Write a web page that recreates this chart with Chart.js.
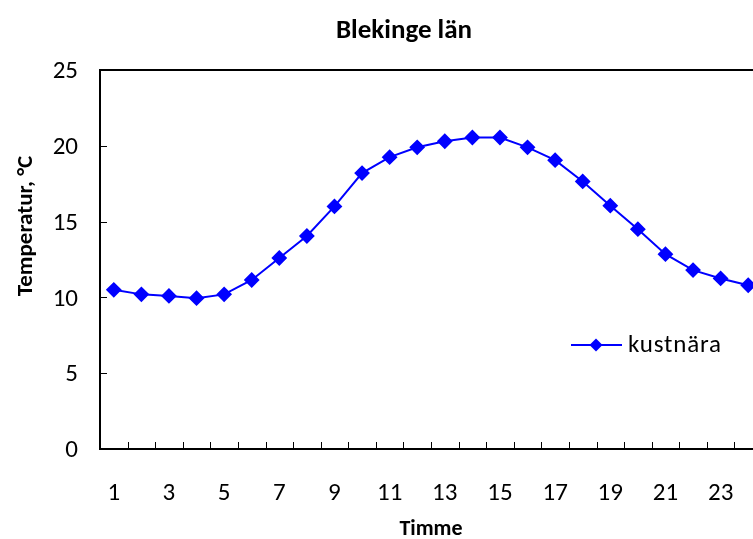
<!DOCTYPE html>
<html>
<head>
<meta charset="utf-8">
<script src="https://cdn.jsdelivr.net/npm/chart.js@4"></script>
<style>
  html, body { margin: 0; padding: 0; background: #fff; overflow: hidden; }
  #wrap { width: 808px; height: 539px; }
</style>
</head>
<body>
<div id="wrap"><canvas id="c" width="808" height="539"></canvas></div>
<script>
// Hourly temperature, coastal station, Blekinge county
const hours = Array.from({ length: 24 }, (_, i) => String(i + 1));
const kustnara = [10.5, 10.2, 10.1, 9.95, 10.2, 11.15, 12.6, 14.05, 16.0, 18.2, 19.25, 19.9,
                  20.3, 20.55, 20.55, 19.9, 19.05, 17.65, 16.05, 14.5, 12.85, 11.8, 11.25, 10.8];
const yTicks = [0, 5, 10, 15, 20, 25];

const FONT = 'Carlito, Lato, "Open Sans", sans-serif';
const BLUE = '#0000FF';

// Frame, inward tick marks, titles and legend
const decor = {
  id: 'decor',
  afterDraw(chart) {
    const { ctx, chartArea: a, scales: { x, y } } = chart;
    ctx.save();
    // plot frame
    ctx.strokeStyle = '#000';
    ctx.lineWidth = 2;
    ctx.strokeRect(a.left, a.top, a.right - a.left, a.bottom - a.top);
    // inward ticks
    ctx.lineWidth = 1;
    ctx.beginPath();
    for (let i = 1; i < hours.length; i++) {
      const px = Math.round((x.getPixelForValue(i - 1) + x.getPixelForValue(i)) / 2) + 0.5;
      ctx.moveTo(px, a.bottom);
      ctx.lineTo(px, a.bottom - 7);
    }
    yTicks.forEach(v => {
      const py = Math.round(y.getPixelForValue(v)) + 0.5;
      ctx.moveTo(a.left, py);
      ctx.lineTo(a.left + 7, py);
    });
    ctx.stroke();

    // titles
    ctx.fillStyle = '#000';
    ctx.textAlign = 'center';
    ctx.textBaseline = 'middle';
    ctx.font = 'bold 27px ' + FONT;
    ctx.fillText('Blekinge län', chart.width / 2, 31);
    ctx.font = 'bold 22px ' + FONT;
    ctx.fillText('Timme', (a.left + a.right) / 2, 529);
    ctx.save();
    ctx.translate(26, 226);
    ctx.rotate(-Math.PI / 2);
    ctx.font = 'bold 23px ' + FONT;
    ctx.fillText('Temperatur, °C', 0, 0);
    ctx.restore();

    // legend
    const ly = 345;
    ctx.strokeStyle = BLUE;
    ctx.lineWidth = 2;
    ctx.beginPath();
    ctx.moveTo(571, ly);
    ctx.lineTo(622, ly);
    ctx.stroke();
    ctx.fillStyle = BLUE;
    ctx.beginPath();
    ctx.moveTo(596, ly - 6.5);
    ctx.lineTo(602.5, ly);
    ctx.lineTo(596, ly + 6.5);
    ctx.lineTo(589.5, ly);
    ctx.closePath();
    ctx.fill();
    ctx.fillStyle = '#000';
    ctx.textAlign = 'left';
    ctx.font = '25px ' + FONT;
    ctx.letterSpacing = '0.8px';
    ctx.fillText('kustnära', 628, ly + 1);
    ctx.restore();
  }
};

new Chart(document.getElementById('c'), {
  type: 'line',
  data: {
    labels: hours,
    datasets: [{
      label: 'kustnära',
      data: kustnara,
      borderColor: BLUE,
      backgroundColor: BLUE,
      borderWidth: 2,
      pointStyle: 'rectRot',
      pointRadius: 6.5,
      pointHoverRadius: 6.5,
      tension: 0
    }]
  },
  options: {
    responsive: false,
    animation: false,
    devicePixelRatio: 1,
    layout: { padding: { left: 0, top: 70, right: 46, bottom: 0 } },
    plugins: { legend: { display: false }, title: { display: false }, tooltip: { enabled: false } },
    scales: {
      x: {
        type: 'category',
        offset: true,
        grid: { display: false, drawTicks: false },
        border: { display: false },
        ticks: {
          autoSkip: false,
          maxRotation: 0,
          padding: 30,
          color: '#000',
          font: { family: FONT, size: 25 },
          callback: (v, i) => (i % 2 === 0 && i < 23 ? hours[i] : '')
        },
        afterFit: s => { s.height = 90; }
      },
      y: {
        min: 0,
        max: 25,
        grid: { display: false, drawTicks: false },
        border: { display: false },
        ticks: {
          stepSize: 5,
          padding: 22,
          labelOffset: 2,
          color: '#000',
          font: { family: FONT, size: 25 }
        },
        afterFit: s => { s.width = 100; }
      }
    }
  },
  plugins: [decor]
});
</script>
</body>
</html>
